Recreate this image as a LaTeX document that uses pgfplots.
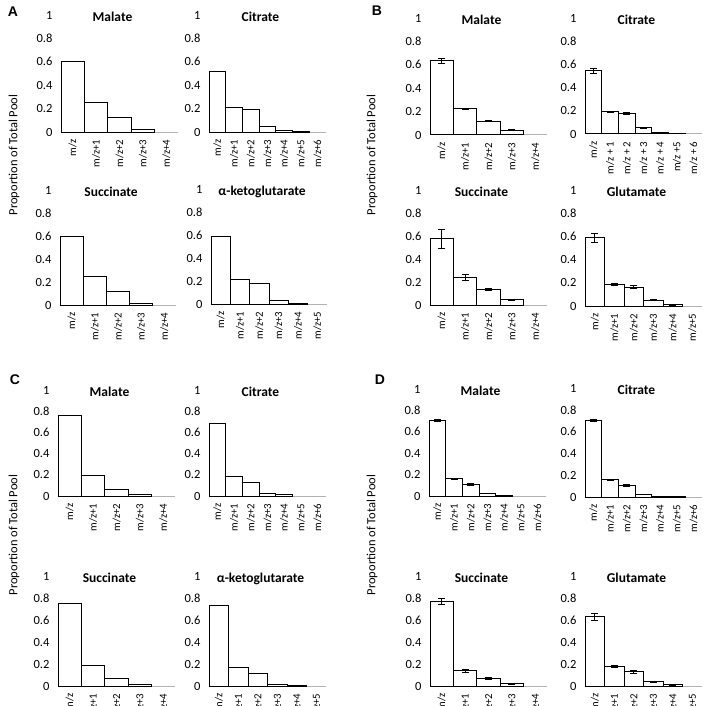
\documentclass[border=0pt]{standalone}
\usepackage{fontspec}
\setmainfont{Carlito}
\newfontfamily\letterfont{Liberation Sans}
\usepackage{pgfplots}
\pgfplotsset{compat=1.18}
\pgfplotsset{
  sub/.style n args={4}{at={(#1pt,-#2pt)}, anchor=south west, width=#3pt, height=#4pt},
  base/.style={
    scale only axis,
    enlargelimits=false,
    ymin=0, ymax=1,
    ytick={0,0.2,0.4,0.6,0.8,1},
    yticklabels={0,0.2,0.4,0.6,0.8,1},
    axis lines*=left,
    y axis line style={draw=none},
    x axis line style={draw=black!30, line width=1pt},
    major tick length=0pt,
    tick style={draw=none},
    ybar, bar width=1,
    clip=false,
    yticklabel style={font=\fontsize{12.5}{14}\selectfont, xshift=-5pt},
    xticklabel style={font=\fontsize{10.8}{12}\selectfont, yshift=-4pt, rotate=90, anchor=east},
    title style={font=\fontsize{13.5}{15}\selectfont\bfseries, at={(0.44,1)}, anchor=north, yshift=1pt},
  },
  five/.style={xmin=-0.5, xmax=4.5, xtick={0,1,2,3,4},
    xticklabels={m/z,m/z+1,m/z+2,m/z+3,m/z+4}},
  six/.style={xmin=-0.5, xmax=5.5, xtick={0,1,2,3,4,5},
    xticklabels={m/z,m/z+1,m/z+2,m/z+3,m/z+4,m/z+5}},
  seven/.style={xmin=-0.5, xmax=6.5, xtick={0,1,2,3,4,5,6},
    xticklabels={m/z,m/z+1,m/z+2,m/z+3,m/z+4,m/z+5,m/z+6}},
  bars/.style={fill=white, draw=black, line width=1pt},
  ebars/.style={fill=white, draw=black, line width=1pt,
    error bars/.cd, y dir=both, y explicit,
    error bar style={line width=0.6pt, black},
    error mark options={rotate=90, mark size=3.5pt, line width=0.6pt, black}},
}
\begin{document}
\begin{tikzpicture}
\useasboundingbox (0pt,0pt) rectangle (709pt,-706pt);

% panel letters and y labels
\node[font=\letterfont\bfseries\fontsize{14}{16}\selectfont] at (13pt,-12pt) {A};
\node[font=\letterfont\bfseries\fontsize{14}{16}\selectfont] at (377pt,-11pt) {B};
\node[font=\letterfont\bfseries\fontsize{14}{16}\selectfont] at (15pt,-380pt) {C};
\node[font=\letterfont\bfseries\fontsize{14}{16}\selectfont] at (380pt,-380pt) {D};
\node[rotate=90, font=\fontsize{12.5}{14}\selectfont] at (14pt,-155pt) {Proportion of Total Pool};
\node[rotate=90, font=\fontsize{12.5}{14}\selectfont] at (372pt,-155pt) {Proportion of Total Pool};
\node[rotate=90, font=\fontsize{12.5}{14}\selectfont] at (14pt,-535pt) {Proportion of Total Pool};
\node[rotate=90, font=\fontsize{12.5}{14}\selectfont] at (372pt,-535pt) {Proportion of Total Pool};

% ---------------- Panel A ----------------
\begin{axis}[base, five, sub={61}{132}{117}{117}, title={Malate}]
\addplot[bars] coordinates {(0,0.60) (1,0.25) (2,0.12) (3,0.02)};
\end{axis}
\begin{axis}[base, seven, sub={209}{132}{117}{117}, title={Citrate}]
\addplot[bars] coordinates {(0,0.52) (1,0.21) (2,0.19) (3,0.05) (4,0.01) (5,0.003)};
\end{axis}
\begin{axis}[base, five, sub={60}{305}{116}{115}, title={Succinate}]
\addplot[bars] coordinates {(0,0.60) (1,0.25) (2,0.12) (3,0.017)};
\end{axis}
\begin{axis}[base, six, sub={211}{304}{116}{115}, title={α-ketoglutarate}]
\addplot[bars] coordinates {(0,0.59) (1,0.21) (2,0.18) (3,0.03) (4,0.008)};
\end{axis}

% ---------------- Panel B ----------------
\begin{axis}[base, five, sub={430}{135}{117}{117}, title={Malate}]
\addplot[ebars] coordinates {(0,0.635) +- (0,0.022) (1,0.227) +- (0,0.005) (2,0.119) +- (0,0.005) (3,0.042) +- (0,0.003)};
\end{axis}
\begin{axis}[base, sub={585}{134}{117}{116}, title={Citrate},
  xmin=-0.5, xmax=6.5, xtick={0,1,2,3,4,5,6},
  xticklabels={m/z,m/z + 1,m/z + 2,m/z + 3,m/z + 4,m/z +5,m/z + 6}]
\addplot[ebars] coordinates {(0,0.546) +- (0,0.019) (1,0.193) +- (0,0.005) (2,0.18) +- (0,0.007) (3,0.057) +- (0,0.004) (4,0.014) +- (0,0.002) (5,0.005) +- (0,0.001)};
\end{axis}
\begin{axis}[base, five, sub={430}{305}{117}{115}, title={Succinate}]
\addplot[ebars] coordinates {(0,0.577) +- (0,0.08) (1,0.239) +- (0,0.025) (2,0.137) +- (0,0.007) (3,0.044) +- (0,0.003)};
\end{axis}
\begin{axis}[base, six, sub={585}{306}{117}{116}, title={Glutamate}]
\addplot[ebars] coordinates {(0,0.589) +- (0,0.038) (1,0.187) +- (0,0.01) (2,0.163) +- (0,0.012) (3,0.05) +- (0,0.005) (4,0.012) +- (0,0.002)};
\end{axis}

% ---------------- Panel C ----------------
\begin{axis}[base, five, sub={58}{496}{117}{106}, title={Malate}]
\addplot[bars] coordinates {(0,0.755) (1,0.19) (2,0.063) (3,0.01)};
\end{axis}
\begin{axis}[base, seven, sub={209}{496}{117}{106}, title={Citrate}]
\addplot[bars] coordinates {(0,0.683) (1,0.18) (2,0.123) (3,0.028) (4,0.01)};
\end{axis}
\begin{axis}[base, five, sub={58}{686}{117}{110}, title={Succinate}]
\addplot[bars] coordinates {(0,0.75) (1,0.19) (2,0.065) (3,0.012)};
\end{axis}
\begin{axis}[base, six, sub={209}{686}{117}{110}, title={α-ketoglutarate}]
\addplot[bars] coordinates {(0,0.73) (1,0.17) (2,0.11) (3,0.015) (4,0.005)};
\end{axis}

% ---------------- Panel D ----------------
\begin{axis}[base, seven, sub={429}{496}{117}{107}, title={Malate}]
\addplot[ebars] coordinates {(0,0.706) +- (0,0.012) (1,0.16) +- (0,0.004) (2,0.11) +- (0,0.008) (3,0.025) +- (0,0.002) (4,0.006) +- (0,0.001)};
\end{axis}
\begin{axis}[base, seven, sub={585}{497}{117}{109}, title={Citrate}]
\addplot[ebars] coordinates {(0,0.705) +- (0,0.012) (1,0.16) +- (0,0.004) (2,0.105) +- (0,0.008) (3,0.025) +- (0,0.002) (4,0.006) +- (0,0.001) (5,0.003) +- (0,0)};
\end{axis}
\begin{axis}[base, five, sub={430}{686}{117}{110}, title={Succinate}]
\addplot[ebars] coordinates {(0,0.77) +- (0,0.03) (1,0.14) +- (0,0.015) (2,0.07) +- (0,0.01) (3,0.02) +- (0,0.003)};
\end{axis}
\begin{axis}[base, six, sub={585}{686}{117}{110}, title={Glutamate}]
\addplot[ebars] coordinates {(0,0.63) +- (0,0.035) (1,0.18) +- (0,0.008) (2,0.13) +- (0,0.012) (3,0.04) +- (0,0.005) (4,0.01) +- (0,0.002)};
\end{axis}
\end{tikzpicture}
\end{document}
